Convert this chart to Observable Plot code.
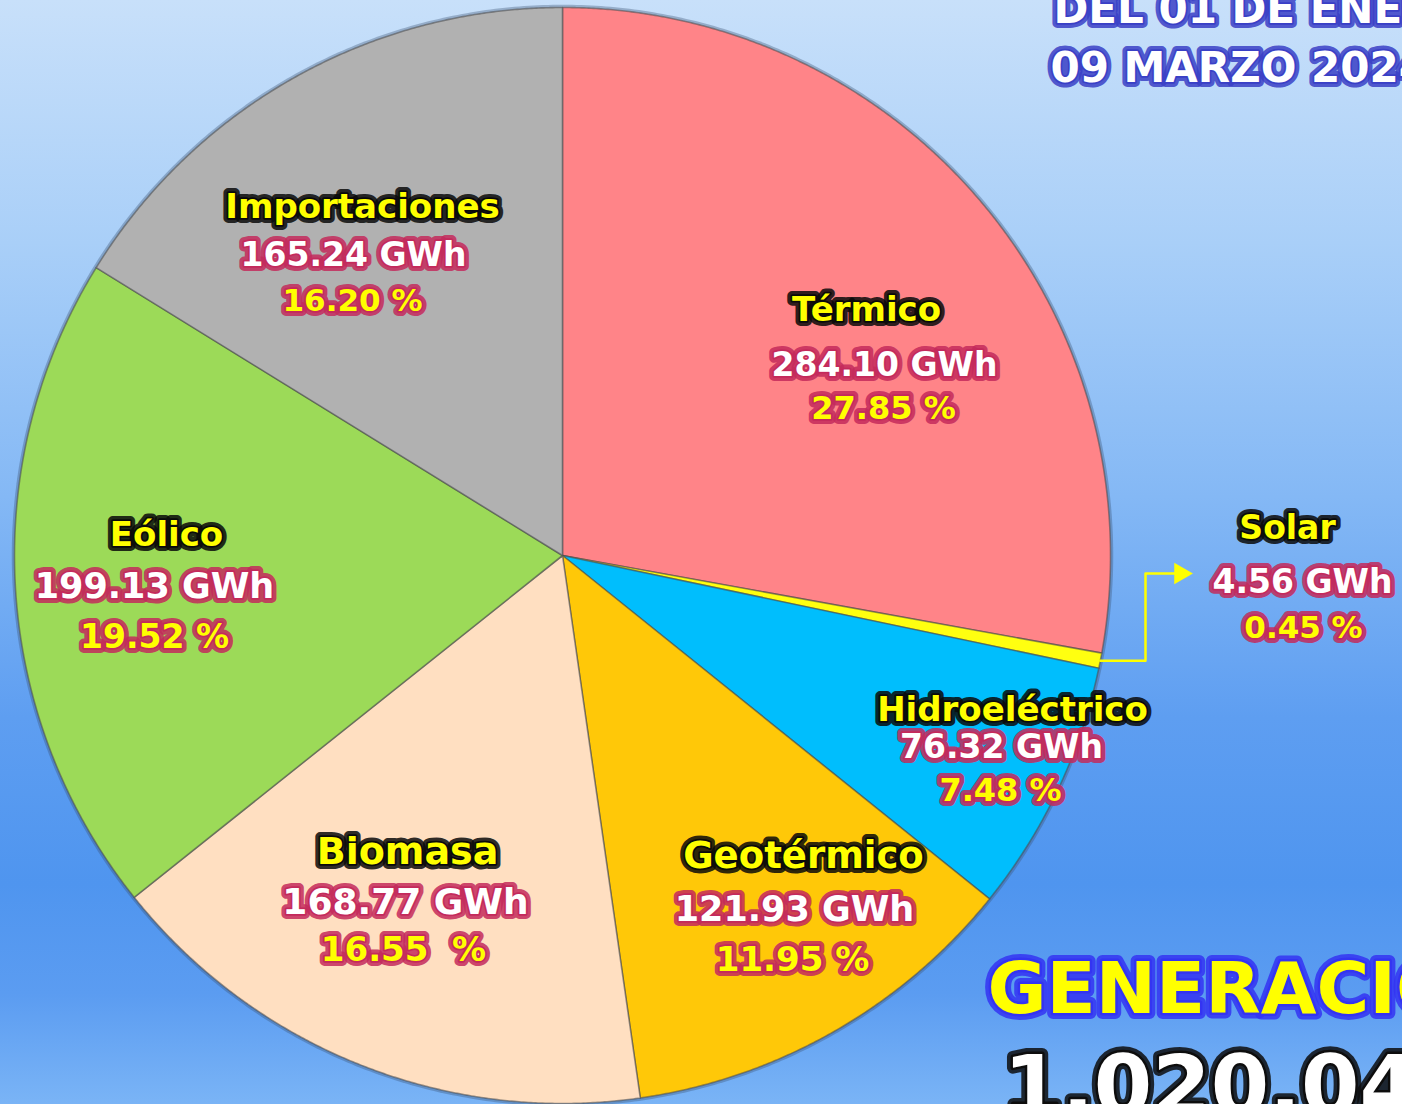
<!DOCTYPE html>
<html>
<head>
<meta charset="utf-8">
<script src="https://cdn.jsdelivr.net/npm/d3@7"></script>
<script src="https://cdn.jsdelivr.net/npm/@observablehq/plot@0.6"></script>
<style>
  html, body { margin: 0; padding: 0; background: #7ab4f6; }
  #chart { width: 1402px; height: 1104px; overflow: hidden; }
</style>
</head>
<body>
<div id="chart"></div>
<script>
// ---- data ----
const categories = ["Térmico", "Solar", "Hidroeléctrico", "Geotérmico", "Biomasa", "Eólico", "Importaciones"];
const valuesGWh  = [284.10, 4.56, 76.32, 121.93, 168.77, 199.13, 165.24];
const pctLabels  = ["27.85 %", "0.45 %", "7.48 %", "11.95 %", "16.55\u00A0 %", "19.52 %", "16.20 %"];
const sliceColors = ["#FF8488", "#FFFF10", "#00BEFD", "#FFC808", "#FFDFC1", "#9CDA58", "#B1B1B1"];
const titleLines = ["DEL 01 DE ENERO AL", "09 MARZO 2024"];
const totalTitle = "GENERACIÓN TOTAL";
const totalValue = "1,020.04 GWh";

// ---- layout (pixels) ----
const W = 1402, H = 1104, CX = 562, CY = 555, R = 548;
const toX = px => (px - CX) / R;
const toY = py => (CY - py) / R;
// [x center, baseline, font size] for name / value / percent of each category
const labelLayout = [
  {name: [866, 320, 34], value: [884, 375, 33], pct: [883, 418, 32]},
  {name: [1287, 538, 33], value: [1302, 592, 33], pct: [1303, 637, 31]},
  {name: [1012, 720, 34], value: [1001, 757, 33], pct: [1000, 800, 32]},
  {name: [803, 867, 37], value: [794, 920, 35], pct: [792, 970, 34]},
  {name: [407, 863, 38], value: [405, 913, 36], pct: [403, 960, 34]},
  {name: [166, 545, 34], value: [154, 597, 35], pct: [154, 647, 33]},
  {name: [362, 217, 34], value: [353, 265, 33], pct: [352, 310, 31]}
];
const leader = {elbowX: 1145, arrowY: 573, tipX: 1180};

// ---- geometry through d3.pie ----
const arcs = d3.pie().sort(null).value(d => d)(valuesGWh);
const slicePts = [];
arcs.forEach((a, i) => {
  const cat = categories[i];
  const n = Math.max(2, Math.ceil((a.endAngle - a.startAngle) / (Math.PI / 720)));
  slicePts.push({cat, x: 0, y: 0});
  for (let k = 0; k <= n; k++) {
    const t = a.startAngle + (a.endAngle - a.startAngle) * k / n;
    slicePts.push({cat, x: Math.sin(t), y: Math.cos(t)});
  }
});
const ringPts = d3.range(0, 721).map(k => {
  const t = k / 720 * 2 * Math.PI;
  return {x: 1.005 * Math.sin(t), y: 1.005 * Math.cos(t)};
});
const solar = arcs[categories.indexOf("Solar")];
const solarMid = (solar.startAngle + solar.endAngle) / 2;
const leaderPts = [
  {x: Math.sin(solarMid), y: Math.cos(solarMid)},
  {x: toX(leader.elbowX), y: Math.cos(solarMid)},
  {x: toX(leader.elbowX), y: toY(leader.arrowY)},
  {x: toX(leader.tipX - 6), y: toY(leader.arrowY)}
];
const arrowTip = [{x: toX(leader.tipX), y: toY(leader.arrowY)}];

// ---- label rows ----
const fmt = d3.format(".2f");
const rowsOf = (kind, textFn) => categories.map((c, i) => {
  const [px, py, size] = labelLayout[i][kind];
  return {x: toX(px), y: toY(py), size, text: textFn(c, i)};
});
const nameRows = rowsOf("name", c => c);
const valueRows = rowsOf("value", (c, i) => `${fmt(valuesGWh[i])} GWh`);
const pctRows = rowsOf("pct", (c, i) => pctLabels[i]);
const titleRows = [
  {x: toX(1053), y: toY(22), size: 42, text: titleLines[0]},
  {x: toX(1050), y: toY(81), size: 42, text: titleLines[1]}
];
const genRows = [{x: toX(987), y: toY(1012), size: 72, text: totalTitle}];
const totRows = [{x: toX(1003), y: toY(1114), size: 84, text: totalValue}];

function glowText(rows, {fill, glow, anchor = "middle", glowWidth = 10, edgeWidth = 3.5}) {
  const common = {
    x: "x", y: "y", text: "text", fontSize: d => d.size,
    textAnchor: anchor, lineAnchor: "bottom",
    fontFamily: "DejaVu Sans", fontWeight: "bold"
  };
  return [
    Plot.text(rows, {...common, fill: glow, stroke: glow, strokeWidth: glowWidth, strokeLinejoin: "round", strokeOpacity: 0.85, ariaLabel: "glow-under"}),
    Plot.text(rows, {...common, fill, stroke: glow, strokeWidth: edgeWidth, strokeLinejoin: "round", paintOrder: "stroke"})
  ];
}

const svg = Plot.plot({
  width: W, height: H,
  marginTop: 0, marginRight: 0, marginBottom: 0, marginLeft: 0,
  x: {domain: [toX(0), toX(W)], axis: null},
  y: {domain: [toY(H), toY(0)], axis: null},
  color: {domain: categories, range: sliceColors},
  style: "background: linear-gradient(180deg, #c8e0fa 0%, #a9cff8 22%, #84b8f5 45%, #5e9ef1 65%, #4f95ef 80%, #5b9cf1 90%, #7ab4f6 100%); overflow: hidden;",
  marks: [
    Plot.line(ringPts, {x: "x", y: "y", fill: "#3a4f70", fillOpacity: 0.35, stroke: "none", curve: "linear-closed"}),
    Plot.line(slicePts, {x: "x", y: "y", z: "cat", fill: "cat", stroke: "#4a4a4a", strokeOpacity: 0.55, strokeWidth: 1.6, strokeLinejoin: "round", curve: "linear-closed"}),
    Plot.line(leaderPts, {x: "x", y: "y", stroke: "#FFFF00", strokeWidth: 2.5}),
    Plot.dot(arrowTip, {x: "x", y: "y", symbol: "triangle", r: 8, rotate: 90, fill: "#FFFF00", stroke: "none"}),
    ...glowText(nameRows, {fill: "#FFFF00", glow: "#0a0a0a"}),
    ...glowText(valueRows, {fill: "#FFFFFF", glow: "#C42A5C"}),
    ...glowText(pctRows, {fill: "#FFFF00", glow: "#C42A5C"}),
    ...glowText(titleRows, {fill: "#FFFFFF", glow: "#3A40C6", anchor: "start"}),
    ...glowText(genRows, {fill: "#FFFF00", glow: "#3434F2", anchor: "start", glowWidth: 12, edgeWidth: 5}),
    ...glowText(totRows, {fill: "#FFFFFF", glow: "#0d0d0d", anchor: "start", glowWidth: 12, edgeWidth: 5})
  ]
});

// soft glow for the under-layers
const ns = "http://www.w3.org/2000/svg";
const defs = document.createElementNS(ns, "defs");
defs.innerHTML = '<filter id="softglow" x="-10%" y="-60%" width="120%" height="220%"><feGaussianBlur stdDeviation="2.6"/></filter>';
svg.insertBefore(defs, svg.firstChild);
svg.querySelectorAll('g[aria-label="glow-under"]').forEach(g => g.setAttribute("filter", "url(#softglow)"));

document.getElementById("chart").appendChild(svg);
</script>
</body>
</html>
